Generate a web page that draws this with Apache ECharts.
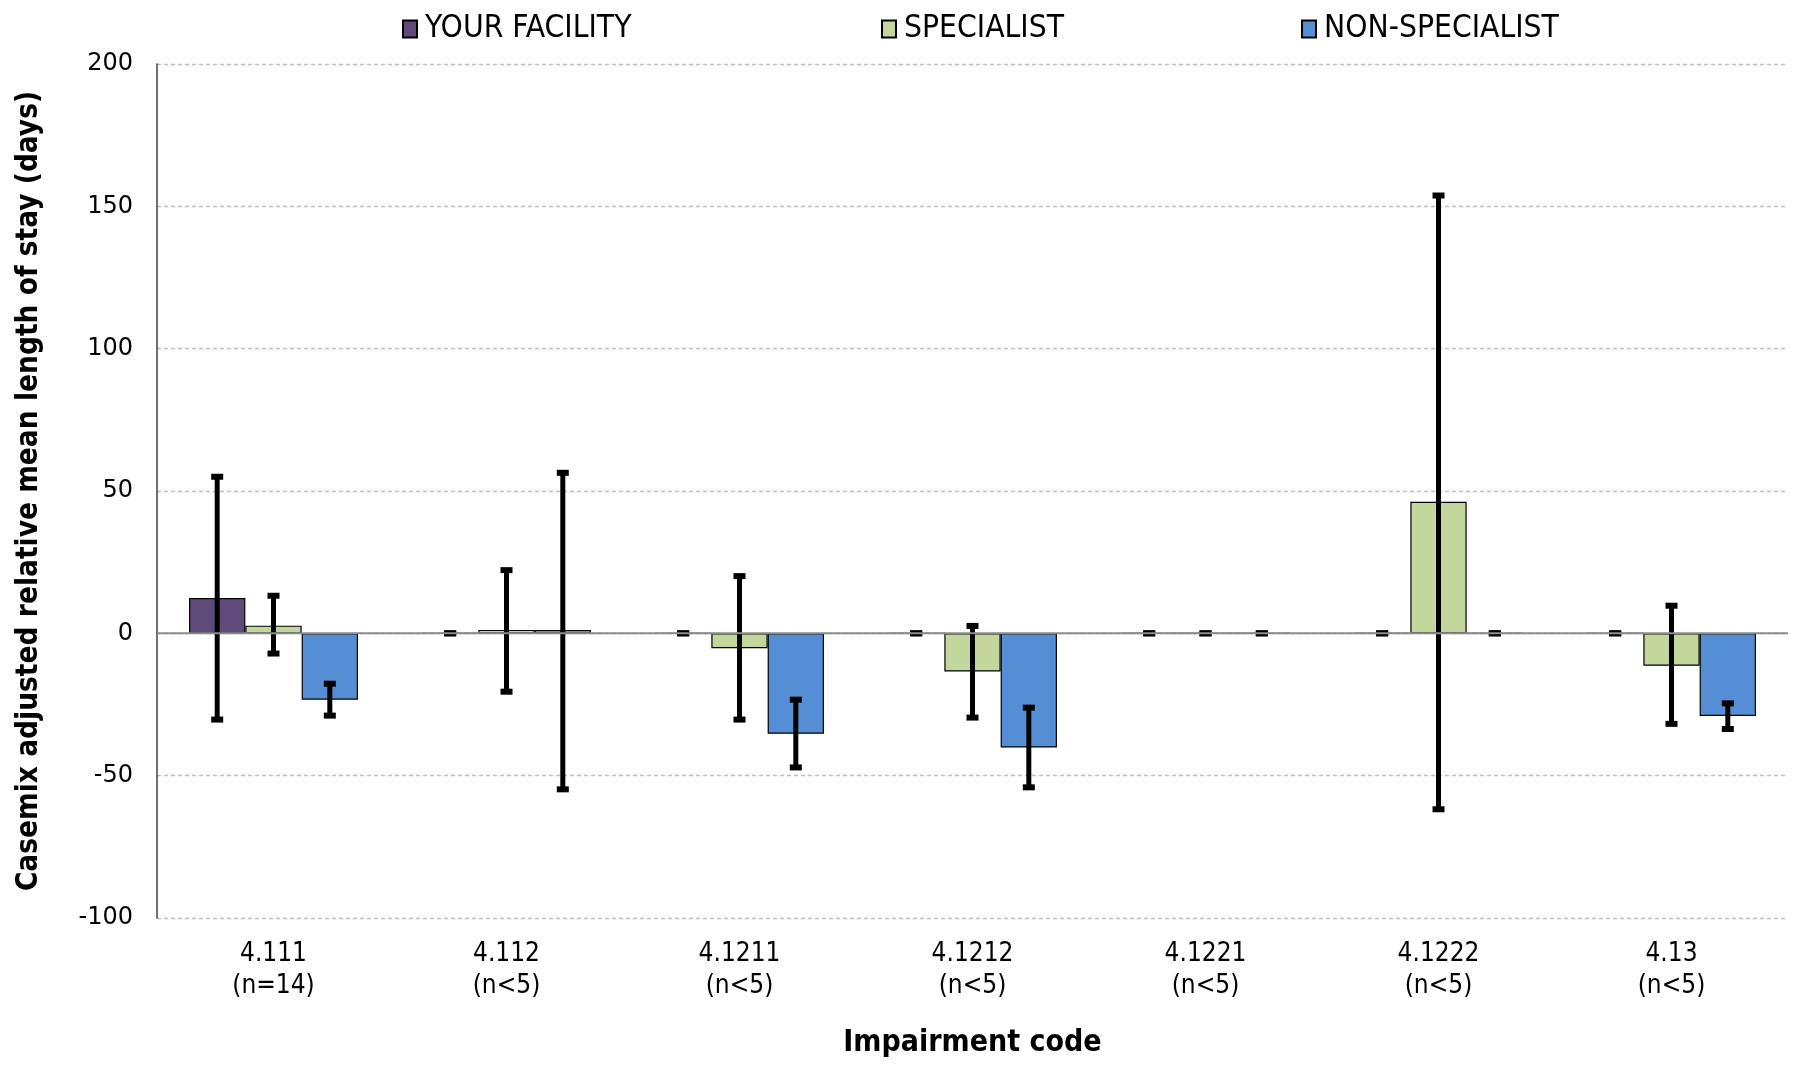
<!DOCTYPE html>
<html>
<head>
<meta charset="utf-8">
<script src="https://cdn.jsdelivr.net/npm/echarts@6/dist/echarts.min.js"></script>
<style>
html,body{margin:0;padding:0;background:#fff;}
#chart{width:1797px;height:1067px;}
</style>
</head>
<body>
<div id="chart"></div>
<script>
// ---- data ----
const codes = ['4.111', '4.112', '4.1211', '4.1212', '4.1221', '4.1222', '4.13'];
const nLabels = ['(n=14)', '(n<5)', '(n<5)', '(n<5)', '(n<5)', '(n<5)', '(n<5)'];
const seriesNames = ['YOUR FACILITY', 'SPECIALIST', 'NON-SPECIALIST'];

const facility = [12.4, 0, 0, 0, 0, 0, 0];
const facilityLow = [-30.3, 0, 0, 0, 0, 0, 0];
const facilityHigh = [55.0, 0, 0, 0, 0, 0, 0];

const specialist = [2.7, 1.2, -5.2, -13.4, 0, 46.2, -11.4];
const specialistLow = [-7.1, -20.5, -30.3, -29.6, 0, -61.8, -31.8];
const specialistHigh = [13.2, 22.2, 20.1, 2.6, 0, 153.8, 9.7];

const nonSpecialist = [-23.3, 1.2, -35.3, -40.1, 0, 0, -29.0];
const nonSpecialistLow = [-28.9, -54.8, -47.1, -54.1, 0, 0, -33.6];
const nonSpecialistHigh = [-17.7, 56.4, -23.3, -26.1, 0, 0, -24.6];

const yTicks = { min: -100, max: 200, interval: 50 };

// ---- chart ----
const condensed = "'Liberation Sans Narrow', 'DejaVu Sans Condensed', sans-serif";
const colors = ['#604A7B', '#C3D69B', '#558ED5'];
const gapRatio = 0.275;
const legendLefts = [402, 881, 1301];

const chart = echarts.init(document.getElementById('chart'));

function errorSeries(idx, lows, highs) {
  return {
    type: 'custom',
    name: seriesNames[idx] + ' error',
    z: 5,
    silent: true,
    encode: { x: 0, y: [1, 2] },
    data: lows.map((l, i) => [i, l, highs[i]]),
    renderItem: function (params, api) {
      const cat = api.value(0), lo = api.value(1), hi = api.value(2);
      const band = api.size([1, 0])[0];
      const barW = band * (1 - gapRatio) / 3;
      const cx = api.coord([cat, 0])[0] + (idx - 1) * barW;
      const yLo = api.coord([cat, lo])[1];
      const yHi = api.coord([cat, hi])[1];
      const capW = 12, capH = 6;
      return {
        type: 'group',
        children: [
          { type: 'line', shape: { x1: cx, y1: yHi, x2: cx, y2: yLo }, style: { stroke: '#000', lineWidth: 5 } },
          { type: 'rect', shape: { x: cx - capW / 2, y: yHi - capH / 2, width: capW, height: capH }, style: { fill: '#000' } },
          { type: 'rect', shape: { x: cx - capW / 2, y: yLo - capH / 2, width: capW, height: capH }, style: { fill: '#000' } }
        ]
      };
    }
  };
}

function barSeries(idx, values) {
  return {
    type: 'bar',
    name: seriesNames[idx],
    data: values,
    barGap: '0%',
    barCategoryGap: (gapRatio * 100) + '%',
    itemStyle: { color: colors[idx], borderColor: '#000', borderWidth: 1.2 },
    z: 2
  };
}

const option = {
  animation: false,
  backgroundColor: '#fff',
  legend: seriesNames.map((n, i) => ({
    data: [n],
    left: legendLefts[i],
    top: 13,
    padding: 0,
    icon: 'rect',
    itemWidth: 14,
    itemHeight: 17,
    itemGap: 0,
    textStyle: { fontFamily: condensed, fontSize: 31.5, color: '#000', padding: [0, 0, 0, 3] }
  })),
  grid: { left: 157, right: 9, top: 64, bottom: 149 },
  xAxis: {
    type: 'category',
    data: codes.map((c, i) => c + '\n' + nLabels[i]),
    axisLine: { show: false, onZero: false },
    axisTick: { show: false },
    axisLabel: { fontFamily: condensed, fontSize: 26, color: '#000', margin: 20, lineHeight: 32 },
    name: 'Impairment code',
    nameLocation: 'middle',
    nameGap: 110,
    nameTextStyle: { fontFamily: condensed, fontSize: 30, fontWeight: 'bold', color: '#000' }
  },
  yAxis: {
    type: 'value',
    min: yTicks.min,
    max: yTicks.max,
    interval: yTicks.interval,
    axisLine: { show: true, lineStyle: { color: '#404040', width: 1.5 } },
    axisTick: { show: false },
    axisLabel: { fontFamily: "'DejaVu Sans', sans-serif", fontSize: 24, color: '#000', margin: 24 },
    splitLine: { show: true, lineStyle: { color: '#BFBFBF', type: [4, 3], width: 1.3 } },
    name: 'Casemix adjusted relative mean length of stay (days)',
    nameLocation: 'middle',
    nameGap: 113,
    nameTextStyle: { fontFamily: condensed, fontSize: 29.5, fontWeight: 'bold', color: '#000' }
  },
  series: [
    barSeries(0, facility),
    barSeries(1, specialist),
    barSeries(2, nonSpecialist),
    errorSeries(0, facilityLow, facilityHigh),
    errorSeries(1, specialistLow, specialistHigh),
    errorSeries(2, nonSpecialistLow, nonSpecialistHigh),
    {
      type: 'custom',
      name: 'zero line',
      silent: true,
      z: 10,
      data: [[0, 0]],
      encode: { x: 0, y: 1 },
      renderItem: function (params, api) {
        const cs = params.coordSys;
        const y = api.coord([0, api.value(1)])[1];
        return { type: 'line', shape: { x1: cs.x, y1: y, x2: cs.x + cs.width, y2: y }, style: { stroke: '#8C8C8C', lineWidth: 2 } };
      }
    }
  ]
};
chart.setOption(option);
</script>
</body>
</html>
